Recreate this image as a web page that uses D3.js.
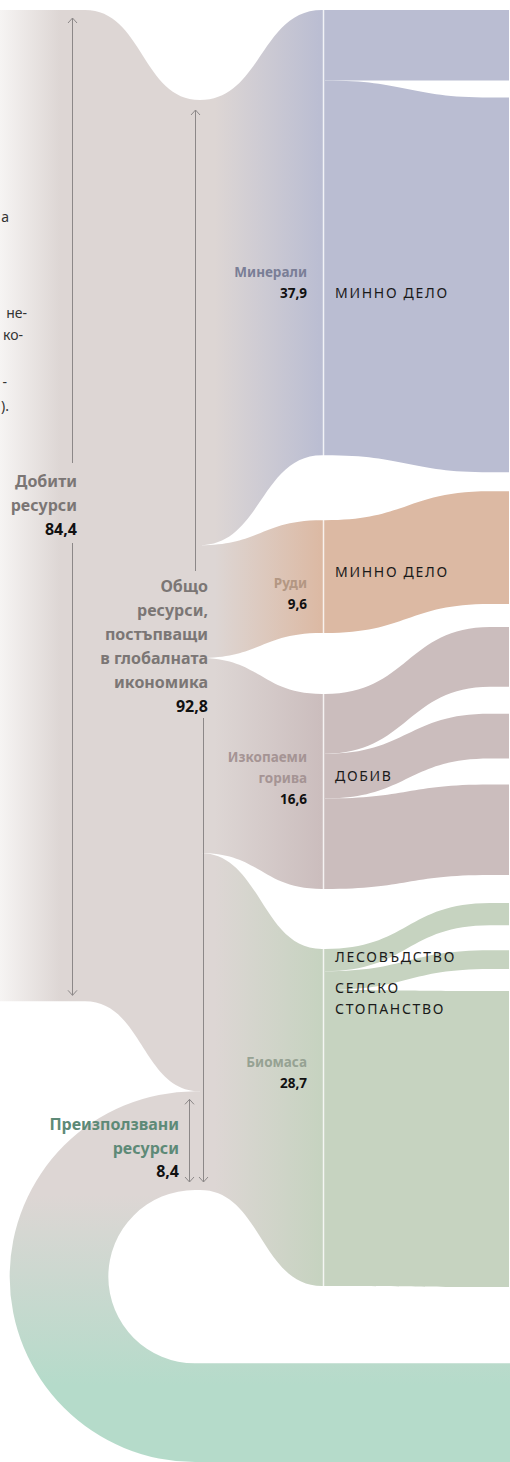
<!DOCTYPE html>
<html lang="bg">
<head>
<meta charset="utf-8">
<script src="https://cdn.jsdelivr.net/npm/d3@7"></script>
<style>
  html, body { margin: 0; padding: 0; background: #fff; }
  svg { display: block; }
  .cat { font-family: "Noto Sans", "Open Sans", sans-serif; font-weight: 700; font-size: 13.5px; }
  .big { font-family: "Noto Sans", "Open Sans", sans-serif; font-weight: 700; font-size: 16px; }
  .sector { font-family: "Noto Sans", "Open Sans", sans-serif; font-weight: 400; font-size: 14px; letter-spacing: 1.7px; fill: #1a1a1a; }
  .frag { font-family: "Noto Sans", sans-serif; font-size: 14px; fill: #333; }
</style>
</head>
<body>
<svg id="chart" width="510" height="1462" lang="bg"></svg>
<script>
// ---------------- DATA ----------------
const categories = ["Минерали", "Руди", "Изкопаеми горива", "Биомаса"];
const categoryValues = [37.9, 9.6, 16.6, 28.7];
const categoryColors = ["#babdd2", "#dcb9a3", "#cbbdbd", "#c6d3c0"];
const categoryLabelColors = ["#7a7e96", "#b39783", "#a59494", "#96a293"];
const extractedValue = 84.4;
const recycledValue = 8.4;
const totalValue = 92.8;
const subFlowValues = [[6.0, 31.9], [9.6], [5.1, 3.8, 7.7], [1.9, 1.6, 25.2]];
const sectorLabels = [["МИННО ДЕЛО"], ["МИННО ДЕЛО"], ["ДОБИВ"], ["ЛЕСОВЪДСТВО", "СЕЛСКО", "СТОПАНСТВО"]];
const extractedLabel = ["Добити", "ресурси"];
const totalLabel = ["Общо", "ресурси,", "постъпващи", "в глобалната", "икономика"];
const recycledLabel = ["Преизползвани", "ресурси"];
const textFragments = ["а", "не-", "ко-", "-", ")."];

// ---------------- LAYOUT ----------------
const fmt = d3.formatLocale({decimal: ",", thousands: " ", grouping: [3], currency: ["", ""]}).format(".1f");
const k = d3.scaleLinear().domain([0, totalValue]).range([0, 1090]);
const GREY = "#ddd6d4";
const TEAL = "#b5dbca";
const X = {left: 0, bend: 85, total: 200, node: 322, sub: 325, subEnd: 490, right: 509};
const leftTop = 10, centerTop = 100;
const nodeGaps = [0, 65, 61, 60];
const rightGaps = [17, 19, 23, 27, 26, 28, 25, 22];

const svg = d3.select("#chart");
const defs = svg.append("defs");

function band(x0, y0t, y0b, x1, y1t, y1b, tail) {
  const m = (x0 + x1) / 2;
  let p = `M${x0},${y0t} C${m},${y0t} ${m},${y1t} ${x1},${y1t}`;
  if (tail) p += ` L${tail},${y1t} L${tail},${y1b} L${x1},${y1b}`;
  else p += ` L${x1},${y1b}`;
  p += ` C${m},${y1b} ${m},${y0b} ${x0},${y0b} Z`;
  return p;
}

// node positions at x = node
const nodes = [];
let yN = leftTop, yC = centerTop;
categoryValues.forEach((v, i) => {
  yN += nodeGaps[i];
  nodes.push({i, v, y0: yN, y1: yN + k(v), c0: yC, c1: yC + k(v)});
  yN += k(v); yC += k(v);
});

// extracted band gradient (fades to white at far left)
const gL = defs.append("linearGradient").attr("id", "gLeft").attr("gradientUnits", "userSpaceOnUse")
  .attr("x1", 0).attr("x2", 60).attr("y1", 0).attr("y2", 0);
gL.append("stop").attr("offset", 0).attr("stop-color", "#f6f4f3");
gL.append("stop").attr("offset", 1).attr("stop-color", GREY);

const exH = k(extractedValue);
const exBottomCenter = centerTop + exH;
svg.append("path")
  .attr("d", `M${X.left},${leftTop} L${X.bend},${leftTop} ` +
    `C${(X.bend + X.total) / 2},${leftTop} ${(X.bend + X.total) / 2},${centerTop} ${X.total},${centerTop} ` +
    `L${X.total + 2},${centerTop} L${X.total + 2},${exBottomCenter} L${X.total},${exBottomCenter} ` +
    `C${(X.bend + X.total) / 2},${exBottomCenter} ${(X.bend + X.total) / 2},${leftTop + exH} ${X.bend},${leftTop + exH} ` +
    `L${X.left},${leftTop + exH} Z`)
  .attr("fill", "url(#gLeft)");

// recycled loop
const rcH = k(recycledValue);
const outerTop = exBottomCenter, outerBottom = 1462;
const R = (outerBottom - outerTop) / 2;
const innerTop = outerTop + rcH, innerBottom = outerBottom - rcH;
const r = (innerBottom - innerTop) / 2;
const cx = 195;
const gR = defs.append("linearGradient").attr("id", "gLoop").attr("gradientUnits", "userSpaceOnUse")
  .attr("x1", 0).attr("x2", 0).attr("y1", 1195).attr("y2", 1385);
gR.append("stop").attr("offset", 0).attr("stop-color", GREY);
gR.append("stop").attr("offset", 1).attr("stop-color", TEAL);
svg.append("path")
  .attr("d", `M${X.total + 2},${outerTop} L${cx},${outerTop} A${R},${R} 0 0 0 ${cx},${outerBottom} ` +
    `L${X.right + 1},${outerBottom} L${X.right + 1},${innerBottom} L${cx},${innerBottom} ` +
    `A${r},${r} 0 0 1 ${cx},${innerTop} L${X.total + 2},${innerTop} Z`)
  .attr("fill", "url(#gLoop)");

// category links center -> node
nodes.forEach(n => {
  const g = defs.append("linearGradient").attr("id", "gc" + n.i).attr("gradientUnits", "userSpaceOnUse")
    .attr("x1", 215).attr("x2", X.node).attr("y1", 0).attr("y2", 0);
  g.append("stop").attr("offset", 0).attr("stop-color", GREY);
  g.append("stop").attr("offset", 1).attr("stop-color", categoryColors[n.i]);
  svg.append("path")
    .attr("d", band(X.total, n.c0, n.c1, X.node, n.y0, n.y1, X.sub))
    .attr("fill", `url(#gc${n.i})`);
});

// sub flows node -> right
let yR = leftTop, gi = 0, first = true;
nodes.forEach(n => {
  let yL = n.y0;
  subFlowValues[n.i].forEach(v => {
    if (!first) { yR += rightGaps[gi++]; }
    first = false;
    const h = k(v);
    svg.append("path")
      .attr("d", band(X.sub, yL, yL + h, X.subEnd, yR, yR + h, X.right))
      .attr("fill", categoryColors[n.i]);
    yL += h; yR += h;
  });
});

// white separator line
svg.append("line").attr("x1", 323.5).attr("x2", 323.5)
  .attr("y1", nodes[0].y0).attr("y2", nodes[3].y1)
  .attr("stroke", "#fff").attr("stroke-opacity", 0.8).attr("stroke-width", 1.5);

// measurement lines
function vline(x, ya, yb, headTop, headBottom) {
  const g = svg.append("g").attr("stroke", "#8c8888").attr("stroke-width", 1).attr("fill", "none");
  g.append("line").attr("x1", x).attr("x2", x).attr("y1", ya).attr("y2", yb);
  if (headTop) g.append("path").attr("d", `M${x - 4.5},${ya + 5} L${x},${ya} L${x + 4.5},${ya + 5}`);
  if (headBottom) g.append("path").attr("d", `M${x - 4.5},${yb - 5} L${x},${yb} L${x + 4.5},${yb - 5}`);
}
vline(72.5, leftTop + 8, 463, true, false);
vline(72.5, 543, leftTop + exH - 6, false, true);
vline(195.5, centerTop + 10, 571, true, false);
vline(203.5, 718, innerTop - 8, false, true);
vline(189.5, outerTop + 8, innerTop - 8, true, true);

// labels
function lines(x, y0, lh, arr, cls, color, anchor) {
  arr.forEach((t, j) => {
    svg.append("text").attr("class", cls).attr("x", x).attr("y", y0 + j * lh)
      .attr("text-anchor", anchor || "end").attr("fill", color).text(t);
  });
}
lines(77, 487, 24, extractedLabel, "big", "#7b7675");
lines(77, 535, 0, [fmt(extractedValue)], "big", "#111");
lines(208, 592, 24, totalLabel, "big", "#7b7675");
lines(208, 712, 0, [fmt(totalValue)], "big", "#111");
lines(179, 1130, 24, recycledLabel, "big", "#5d8a77");
lines(179, 1177, 0, [fmt(recycledValue)], "big", "#111");

const catLabelY = [277, 588, 762, 1067];
const sectorY = [298, 577, 781, 962];
nodes.forEach(n => {
  const words = n.i === 2 ? ["Изкопаеми", "горива"] : [categories[n.i]];
  lines(307, catLabelY[n.i], 21, words, "cat", categoryLabelColors[n.i]);
  lines(307, catLabelY[n.i] + 21 * words.length, 0, [fmt(n.v)], "cat", "#111");
  const sl = sectorLabels[n.i];
  if (n.i === 3) {
    lines(335, sectorY[n.i], 0, [sl[0]], "sector", "#1a1a1a", "start");
    lines(335, 993, 21, sl.slice(1), "sector", "#1a1a1a", "start");
  } else {
    lines(335, sectorY[n.i], 0, sl, "sector", "#1a1a1a", "start");
  }
});

// paragraph fragments at the left edge
const fragX = [9, 27, 23, 7, 9];
const fragY = [222, 318, 340, 387, 411];
textFragments.forEach((t, j) => {
  svg.append("text").attr("class", "frag").attr("x", fragX[j]).attr("y", fragY[j])
    .attr("text-anchor", "end").text(t);
});
</script>
</body>
</html>
